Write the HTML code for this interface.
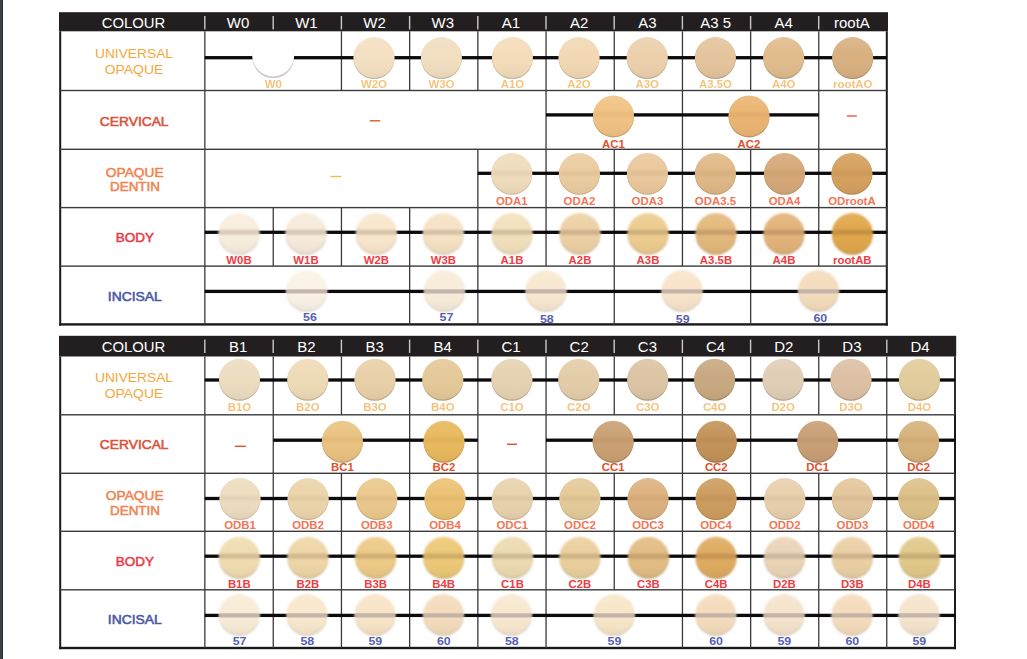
<!DOCTYPE html>
<html><head><meta charset="utf-8"><style>
html,body{margin:0;padding:0;background:#fff;width:1027px;height:659px;overflow:hidden}
svg{display:block;position:absolute;left:0;top:0}
text{font-family:"Liberation Sans",sans-serif;text-anchor:middle}
.hd{fill:#fff;font-size:15px}
.luo{fill:#f5b865;font-size:10px;font-weight:bold;opacity:.85}
.lcv{fill:#e2502c;font-size:10px;font-weight:bold}
.lod{fill:#f27656;font-size:10px;font-weight:bold}
.lbd{fill:#ef3d45;font-size:10px;font-weight:bold}
.lin{fill:#5660b4;font-size:10px;font-weight:bold}
.ruo{fill:#f4a83a;font-size:13px}
.rcv{fill:#d9533c;stroke:#d9533c;stroke-width:.55px;font-size:12.8px}
.rod{fill:#f08450;stroke:#f08450;stroke-width:.5px;font-size:12.2px}
.rbd{fill:#e63e4c;stroke:#e63e4c;stroke-width:.55px;font-size:12.5px}
.rin{fill:#4b58a8;stroke:#4b58a8;stroke-width:.55px;font-size:12.5px}
</style></head><body>
<svg width="1027" height="659" viewBox="0 0 1027 659">
<defs><linearGradient id="shade" x1="0" y1="0" x2="0" y2="1"><stop offset="0" stop-color="#fff" stop-opacity=".12"/><stop offset=".45" stop-color="#fff" stop-opacity="0"/><stop offset="1" stop-color="#000" stop-opacity=".05"/></linearGradient><filter id="bl" x="-20%" y="-20%" width="140%" height="140%"><feGaussianBlur stdDeviation="0.65"/></filter><filter id="bl2" x="-20%" y="-50%" width="140%" height="200%"><feGaussianBlur stdDeviation="1.1"/></filter><filter id="bl4" x="-20%" y="-20%" width="140%" height="140%"><feGaussianBlur stdDeviation="0.85"/></filter><filter id="bl3" x="-20%" y="-20%" width="140%" height="140%"><feGaussianBlur stdDeviation="1.0"/></filter></defs>
<rect x="0" y="0" width="2" height="659" fill="#3d4246"/>
<rect x="2" y="0" width="1" height="659" fill="#2c3033"/>
<rect x="59" y="12.2" width="829.0" height="19.1" fill="#231f20"/>
<text x="133.5" y="27.9" class="hd" textLength="63.6" lengthAdjust="spacingAndGlyphs">COLOUR</text>
<text x="238.1" y="27.9" class="hd">W0</text>
<text x="306.4" y="27.9" class="hd">W1</text>
<text x="374.6" y="27.9" class="hd">W2</text>
<text x="442.8" y="27.9" class="hd">W3</text>
<text x="511.0" y="27.9" class="hd">A1</text>
<text x="579.2" y="27.9" class="hd">A2</text>
<text x="647.4" y="27.9" class="hd">A3</text>
<text x="715.6" y="27.9" class="hd" xml:space="preserve">A3 5</text>
<text x="783.8" y="27.9" class="hd">A4</text>
<text x="851.9" y="27.9" class="hd">rootA</text>
<rect x="204.1" y="16.0" width="1.4" height="13.4" fill="#c9c9c9"/>
<rect x="272.5" y="16.0" width="1.4" height="13.4" fill="#c9c9c9"/>
<rect x="340.7" y="16.0" width="1.4" height="13.4" fill="#c9c9c9"/>
<rect x="408.9" y="16.0" width="1.4" height="13.4" fill="#c9c9c9"/>
<rect x="477.1" y="16.0" width="1.4" height="13.4" fill="#c9c9c9"/>
<rect x="545.3" y="16.0" width="1.4" height="13.4" fill="#c9c9c9"/>
<rect x="613.5" y="16.0" width="1.4" height="13.4" fill="#c9c9c9"/>
<rect x="681.7" y="16.0" width="1.4" height="13.4" fill="#c9c9c9"/>
<rect x="749.9" y="16.0" width="1.4" height="13.4" fill="#c9c9c9"/>
<rect x="818.0" y="16.0" width="1.4" height="13.4" fill="#c9c9c9"/>
<rect x="59.2" y="31.3" width="2" height="294.3" fill="#1b1b1b"/>
<rect x="885.8" y="31.3" width="2" height="294.3" fill="#1b1b1b"/>
<rect x="59.2" y="323.2" width="828.6" height="2.4" fill="#1b1b1b"/>
<rect x="60" y="89.8" width="826.8" height="1.4" fill="#3c3c3c"/>
<rect x="60" y="148.6" width="826.8" height="1.4" fill="#3c3c3c"/>
<rect x="60" y="206.9" width="826.8" height="1.4" fill="#3c3c3c"/>
<rect x="60" y="265.4" width="826.8" height="1.4" fill="#3c3c3c"/>
<rect x="204.2" y="31.3" width="1.3" height="59.2" fill="#3a3a3a"/>
<rect x="340.8" y="31.3" width="1.3" height="59.2" fill="#3a3a3a"/>
<rect x="409.0" y="31.3" width="1.3" height="59.2" fill="#3a3a3a"/>
<rect x="477.2" y="31.3" width="1.3" height="59.2" fill="#3a3a3a"/>
<rect x="545.4" y="31.3" width="1.3" height="59.2" fill="#3a3a3a"/>
<rect x="613.6" y="31.3" width="1.3" height="59.2" fill="#3a3a3a"/>
<rect x="681.8" y="31.3" width="1.3" height="59.2" fill="#3a3a3a"/>
<rect x="750.0" y="31.3" width="1.3" height="59.2" fill="#3a3a3a"/>
<rect x="818.1" y="31.3" width="1.3" height="59.2" fill="#3a3a3a"/>
<rect x="204.8" y="56.05" width="682.0" height="3.3" fill="#0c0a0c"/>
<g filter="url(#bl)">
<circle cx="273.2" cy="57.1" r="20.9" fill="#cdc4c4"/>
<circle cx="273.2" cy="55.7" r="20.7" fill="#fff"/>
</g>
<text x="273.2" y="88.1" class="luo" style="font-size:10px" textLength="17.1" lengthAdjust="spacingAndGlyphs">W0</text>
<g filter="url(#bl)">
<circle cx="374.0" cy="58.5" r="20.5" fill="#c3b39b" opacity="1"/>
<circle cx="374.0" cy="57.5" r="20.4" fill="#f4e0c2" opacity="1"/>
<circle cx="374.0" cy="57.5" r="20.4" fill="url(#shade)"/>
</g>
<text x="374.0" y="88.1" class="luo" style="font-size:10px" textLength="26.0" lengthAdjust="spacingAndGlyphs">W2O</text>
<g filter="url(#bl)">
<circle cx="441.4" cy="58.5" r="20.5" fill="#c2b29a" opacity="1"/>
<circle cx="441.4" cy="57.5" r="20.4" fill="#f2dec0" opacity="1"/>
<circle cx="441.4" cy="57.5" r="20.4" fill="url(#shade)"/>
</g>
<text x="441.4" y="88.1" class="luo" style="font-size:10px" textLength="26.0" lengthAdjust="spacingAndGlyphs">W3O</text>
<g filter="url(#bl)">
<circle cx="512.4" cy="58.5" r="20.5" fill="#c3b095" opacity="1"/>
<circle cx="512.4" cy="57.5" r="20.4" fill="#f4dcba" opacity="1"/>
<circle cx="512.4" cy="57.5" r="20.4" fill="url(#shade)"/>
</g>
<text x="512.4" y="88.1" class="luo" style="font-size:10px" textLength="23.4" lengthAdjust="spacingAndGlyphs">A1O</text>
<g filter="url(#bl)">
<circle cx="579.0" cy="58.5" r="20.5" fill="#c2ad90" opacity="1"/>
<circle cx="579.0" cy="57.5" r="20.4" fill="#f2d8b4" opacity="1"/>
<circle cx="579.0" cy="57.5" r="20.4" fill="url(#shade)"/>
</g>
<text x="579.0" y="88.1" class="luo" style="font-size:10px" textLength="23.4" lengthAdjust="spacingAndGlyphs">A2O</text>
<g filter="url(#bl)">
<circle cx="647.2" cy="58.5" r="20.5" fill="#bda68a" opacity="1"/>
<circle cx="647.2" cy="57.5" r="20.4" fill="#ecd0ac" opacity="1"/>
<circle cx="647.2" cy="57.5" r="20.4" fill="url(#shade)"/>
</g>
<text x="647.2" y="88.1" class="luo" style="font-size:10px" textLength="23.4" lengthAdjust="spacingAndGlyphs">A3O</text>
<g filter="url(#bl)">
<circle cx="715.4" cy="58.5" r="20.5" fill="#b69d7d" opacity="1"/>
<circle cx="715.4" cy="57.5" r="20.4" fill="#e4c49c" opacity="1"/>
<circle cx="715.4" cy="57.5" r="20.4" fill="url(#shade)"/>
</g>
<text x="715.4" y="88.1" class="luo" style="font-size:10px" textLength="32.9" lengthAdjust="spacingAndGlyphs">A3.5O</text>
<g filter="url(#bl)">
<circle cx="783.7" cy="58.5" r="20.5" fill="#b39670" opacity="1"/>
<circle cx="783.7" cy="57.5" r="20.4" fill="#e0bc8c" opacity="1"/>
<circle cx="783.7" cy="57.5" r="20.4" fill="url(#shade)"/>
</g>
<text x="783.7" y="88.1" class="luo" style="font-size:10px" textLength="23.4" lengthAdjust="spacingAndGlyphs">A4O</text>
<g filter="url(#bl)">
<circle cx="852.7" cy="58.5" r="20.5" fill="#ad8d66" opacity="1"/>
<circle cx="852.7" cy="57.5" r="20.4" fill="#d8b080" opacity="1"/>
<circle cx="852.7" cy="57.5" r="20.4" fill="url(#shade)"/>
</g>
<text x="852.7" y="88.1" class="luo" style="font-size:10px" textLength="39.3" lengthAdjust="spacingAndGlyphs">rootAO</text>
<rect x="204.2" y="90.5" width="1.3" height="58.8" fill="#3a3a3a"/>
<rect x="545.4" y="90.5" width="1.3" height="58.8" fill="#3a3a3a"/>
<rect x="681.8" y="90.5" width="1.3" height="58.8" fill="#3a3a3a"/>
<rect x="818.1" y="90.5" width="1.3" height="58.8" fill="#3a3a3a"/>
<rect x="546.0" y="113.25" width="272.7" height="3.3" fill="#0c0a0c"/>
<rect x="369.8" y="120.1" width="10.5" height="1.4" fill="#e0582e"/>
<rect x="846.8" y="115.3" width="10" height="1.4" fill="#e0603a"/>
<g filter="url(#bl)">
<circle cx="613.5" cy="116.9" r="20.5" fill="#c09b68" opacity="1"/>
<circle cx="613.5" cy="115.9" r="20.4" fill="#f0c282" opacity="1"/>
<circle cx="613.5" cy="115.9" r="20.4" fill="url(#shade)"/>
</g>
<rect x="594.0" y="112.4" width="39" height="5" fill="#5a4030" opacity="0.05" filter="url(#bl2)"/>
<text x="613.5" y="147.6" class="lcv" style="font-size:10px" textLength="22.8" lengthAdjust="spacingAndGlyphs">AC1</text>
<g filter="url(#bl)">
<circle cx="749.0" cy="116.9" r="20.5" fill="#bb905b" opacity="1"/>
<circle cx="749.0" cy="115.9" r="20.4" fill="#eab472" opacity="1"/>
<circle cx="749.0" cy="115.9" r="20.4" fill="url(#shade)"/>
</g>
<rect x="729.5" y="112.4" width="39" height="5" fill="#5a4030" opacity="0.05" filter="url(#bl2)"/>
<text x="749.0" y="147.6" class="lcv" style="font-size:10px" textLength="22.8" lengthAdjust="spacingAndGlyphs">AC2</text>
<rect x="204.2" y="149.3" width="1.3" height="58.3" fill="#3a3a3a"/>
<rect x="477.2" y="149.3" width="1.3" height="58.3" fill="#3a3a3a"/>
<rect x="545.4" y="149.3" width="1.3" height="58.3" fill="#3a3a3a"/>
<rect x="613.6" y="149.3" width="1.3" height="58.3" fill="#3a3a3a"/>
<rect x="681.8" y="149.3" width="1.3" height="58.3" fill="#3a3a3a"/>
<rect x="750.0" y="149.3" width="1.3" height="58.3" fill="#3a3a3a"/>
<rect x="818.1" y="149.3" width="1.3" height="58.3" fill="#3a3a3a"/>
<rect x="477.8" y="171.65" width="409.0" height="3.3" fill="#0c0a0c"/>
<rect x="330.5" y="175.8" width="10.6" height="1.4" fill="#f0bc3c"/>
<g filter="url(#bl)">
<circle cx="511.8" cy="174.3" r="20.5" fill="#cab99e" opacity="1"/>
<circle cx="511.8" cy="173.3" r="20.4" fill="#f0dcbc" opacity="1"/>
<circle cx="511.8" cy="173.3" r="20.4" fill="url(#shade)"/>
</g>
<rect x="492.3" y="170.8" width="39" height="5" fill="#5a4030" opacity="0.06" filter="url(#bl2)"/>
<text x="511.8" y="205.3" class="lod" style="font-size:10px" textLength="31.7" lengthAdjust="spacingAndGlyphs">ODA1</text>
<g filter="url(#bl)">
<circle cx="579.4" cy="174.3" r="20.5" fill="#c6ab86" opacity="1"/>
<circle cx="579.4" cy="173.3" r="20.4" fill="#eccca0" opacity="1"/>
<circle cx="579.4" cy="173.3" r="20.4" fill="url(#shade)"/>
</g>
<rect x="559.9" y="170.8" width="39" height="5" fill="#5a4030" opacity="0.06" filter="url(#bl2)"/>
<text x="579.4" y="205.3" class="lod" style="font-size:10px" textLength="31.7" lengthAdjust="spacingAndGlyphs">ODA2</text>
<g filter="url(#bl)">
<circle cx="647.4" cy="174.3" r="20.5" fill="#c5a883" opacity="1"/>
<circle cx="647.4" cy="173.3" r="20.4" fill="#eac89c" opacity="1"/>
<circle cx="647.4" cy="173.3" r="20.4" fill="url(#shade)"/>
</g>
<rect x="627.9" y="170.8" width="39" height="5" fill="#5a4030" opacity="0.06" filter="url(#bl2)"/>
<text x="647.4" y="205.3" class="lod" style="font-size:10px" textLength="31.7" lengthAdjust="spacingAndGlyphs">ODA3</text>
<g filter="url(#bl)">
<circle cx="715.4" cy="174.3" r="20.5" fill="#bc9b71" opacity="1"/>
<circle cx="715.4" cy="173.3" r="20.4" fill="#e0b886" opacity="1"/>
<circle cx="715.4" cy="173.3" r="20.4" fill="url(#shade)"/>
</g>
<rect x="695.9" y="170.8" width="39" height="5" fill="#5a4030" opacity="0.06" filter="url(#bl2)"/>
<text x="715.4" y="205.3" class="lod" style="font-size:10px" textLength="41.2" lengthAdjust="spacingAndGlyphs">ODA3.5</text>
<g filter="url(#bl)">
<circle cx="784.5" cy="174.3" r="20.5" fill="#b48d65" opacity="1"/>
<circle cx="784.5" cy="173.3" r="20.4" fill="#d6a878" opacity="1"/>
<circle cx="784.5" cy="173.3" r="20.4" fill="url(#shade)"/>
</g>
<rect x="765.0" y="170.8" width="39" height="5" fill="#5a4030" opacity="0.06" filter="url(#bl2)"/>
<text x="784.5" y="205.3" class="lod" style="font-size:10px" textLength="31.7" lengthAdjust="spacingAndGlyphs">ODA4</text>
<g filter="url(#bl)">
<circle cx="851.9" cy="174.3" r="20.5" fill="#b2864f" opacity="1"/>
<circle cx="851.9" cy="173.3" r="20.4" fill="#d4a05e" opacity="1"/>
<circle cx="851.9" cy="173.3" r="20.4" fill="url(#shade)"/>
</g>
<rect x="832.4" y="170.8" width="39" height="5" fill="#5a4030" opacity="0.06" filter="url(#bl2)"/>
<text x="851.9" y="205.3" class="lod" style="font-size:10px" textLength="47.5" lengthAdjust="spacingAndGlyphs">ODrootA</text>
<rect x="204.2" y="207.6" width="1.3" height="58.5" fill="#3a3a3a"/>
<rect x="272.6" y="207.6" width="1.3" height="58.5" fill="#3a3a3a"/>
<rect x="340.8" y="207.6" width="1.3" height="58.5" fill="#3a3a3a"/>
<rect x="409.0" y="207.6" width="1.3" height="58.5" fill="#3a3a3a"/>
<rect x="477.2" y="207.6" width="1.3" height="58.5" fill="#3a3a3a"/>
<rect x="545.4" y="207.6" width="1.3" height="58.5" fill="#3a3a3a"/>
<rect x="613.6" y="207.6" width="1.3" height="58.5" fill="#3a3a3a"/>
<rect x="681.8" y="207.6" width="1.3" height="58.5" fill="#3a3a3a"/>
<rect x="750.0" y="207.6" width="1.3" height="58.5" fill="#3a3a3a"/>
<rect x="818.1" y="207.6" width="1.3" height="58.5" fill="#3a3a3a"/>
<rect x="886.1" y="207.6" width="1.3" height="58.5" fill="#3a3a3a"/>
<rect x="204.8" y="230.65" width="682.0" height="3.3" fill="#0c0a0c"/>
<g filter="url(#bl4)">
<circle cx="239.0" cy="234.3" r="20.5" fill="#c6beb2" opacity="1"/>
<circle cx="239.0" cy="233.3" r="20.4" fill="#f8eedf" opacity="1"/>
<circle cx="239.0" cy="233.3" r="20.4" fill="url(#shade)"/>
</g>
<rect x="219.5" y="229.8" width="39" height="5" fill="#5a4030" opacity="0.2" filter="url(#bl2)"/>
<text x="239.0" y="264.4" class="lbd" style="font-size:10px" textLength="25.3" lengthAdjust="spacingAndGlyphs">W0B</text>
<g filter="url(#bl4)">
<circle cx="306.0" cy="234.3" r="20.5" fill="#c5bbaf" opacity="1"/>
<circle cx="306.0" cy="233.3" r="20.4" fill="#f6eadb" opacity="1"/>
<circle cx="306.0" cy="233.3" r="20.4" fill="url(#shade)"/>
</g>
<rect x="286.5" y="229.8" width="39" height="5" fill="#5a4030" opacity="0.2" filter="url(#bl2)"/>
<text x="306.0" y="264.4" class="lbd" style="font-size:10px" textLength="25.3" lengthAdjust="spacingAndGlyphs">W1B</text>
<g filter="url(#bl4)">
<circle cx="376.3" cy="234.3" r="20.5" fill="#c6b8a3" opacity="1"/>
<circle cx="376.3" cy="233.3" r="20.4" fill="#f8e6cc" opacity="1"/>
<circle cx="376.3" cy="233.3" r="20.4" fill="url(#shade)"/>
</g>
<rect x="356.8" y="229.8" width="39" height="5" fill="#5a4030" opacity="0.2" filter="url(#bl2)"/>
<text x="376.3" y="264.4" class="lbd" style="font-size:10px" textLength="25.3" lengthAdjust="spacingAndGlyphs">W2B</text>
<g filter="url(#bl4)">
<circle cx="443.3" cy="234.3" r="20.5" fill="#c5b59d" opacity="1"/>
<circle cx="443.3" cy="233.3" r="20.4" fill="#f6e2c4" opacity="1"/>
<circle cx="443.3" cy="233.3" r="20.4" fill="url(#shade)"/>
</g>
<rect x="423.8" y="229.8" width="39" height="5" fill="#5a4030" opacity="0.2" filter="url(#bl2)"/>
<text x="443.3" y="264.4" class="lbd" style="font-size:10px" textLength="25.3" lengthAdjust="spacingAndGlyphs">W3B</text>
<g filter="url(#bl4)">
<circle cx="512.0" cy="234.3" r="20.5" fill="#c2b396" opacity="1"/>
<circle cx="512.0" cy="233.3" r="20.4" fill="#f2e0bc" opacity="1"/>
<circle cx="512.0" cy="233.3" r="20.4" fill="url(#shade)"/>
</g>
<rect x="492.5" y="229.8" width="39" height="5" fill="#5a4030" opacity="0.2" filter="url(#bl2)"/>
<text x="512.0" y="264.4" class="lbd" style="font-size:10px" textLength="22.8" lengthAdjust="spacingAndGlyphs">A1B</text>
<g filter="url(#bl4)">
<circle cx="580.0" cy="234.3" r="20.5" fill="#bda683" opacity="1"/>
<circle cx="580.0" cy="233.3" r="20.4" fill="#ecd0a4" opacity="1"/>
<circle cx="580.0" cy="233.3" r="20.4" fill="url(#shade)"/>
</g>
<rect x="560.5" y="229.8" width="39" height="5" fill="#5a4030" opacity="0.2" filter="url(#bl2)"/>
<text x="580.0" y="264.4" class="lbd" style="font-size:10px" textLength="22.8" lengthAdjust="spacingAndGlyphs">A2B</text>
<g filter="url(#bl4)">
<circle cx="648.0" cy="234.3" r="20.5" fill="#bda372" opacity="1"/>
<circle cx="648.0" cy="233.3" r="20.4" fill="#eccc8e" opacity="1"/>
<circle cx="648.0" cy="233.3" r="20.4" fill="url(#shade)"/>
</g>
<rect x="628.5" y="229.8" width="39" height="5" fill="#5a4030" opacity="0.2" filter="url(#bl2)"/>
<text x="648.0" y="264.4" class="lbd" style="font-size:10px" textLength="22.8" lengthAdjust="spacingAndGlyphs">A3B</text>
<g filter="url(#bl4)">
<circle cx="716.0" cy="234.3" r="20.5" fill="#b59362" opacity="1"/>
<circle cx="716.0" cy="233.3" r="20.4" fill="#e2b87a" opacity="1"/>
<circle cx="716.0" cy="233.3" r="20.4" fill="url(#shade)"/>
</g>
<rect x="696.5" y="229.8" width="39" height="5" fill="#5a4030" opacity="0.2" filter="url(#bl2)"/>
<text x="716.0" y="264.4" class="lbd" style="font-size:10px" textLength="32.3" lengthAdjust="spacingAndGlyphs">A3.5B</text>
<g filter="url(#bl4)">
<circle cx="784.0" cy="234.3" r="20.5" fill="#b58e60" opacity="1"/>
<circle cx="784.0" cy="233.3" r="20.4" fill="#e2b278" opacity="1"/>
<circle cx="784.0" cy="233.3" r="20.4" fill="url(#shade)"/>
</g>
<rect x="764.5" y="229.8" width="39" height="5" fill="#5a4030" opacity="0.2" filter="url(#bl2)"/>
<text x="784.0" y="264.4" class="lbd" style="font-size:10px" textLength="22.8" lengthAdjust="spacingAndGlyphs">A4B</text>
<g filter="url(#bl4)">
<circle cx="852.3" cy="234.3" r="20.5" fill="#b3853b" opacity="1"/>
<circle cx="852.3" cy="233.3" r="20.4" fill="#e0a64a" opacity="1"/>
<circle cx="852.3" cy="233.3" r="20.4" fill="url(#shade)"/>
</g>
<rect x="832.8" y="229.8" width="39" height="5" fill="#5a4030" opacity="0.2" filter="url(#bl2)"/>
<text x="852.3" y="264.4" class="lbd" style="font-size:10px" textLength="38.6" lengthAdjust="spacingAndGlyphs">rootAB</text>
<rect x="204.2" y="266.1" width="1.3" height="58.3" fill="#3a3a3a"/>
<rect x="409.0" y="266.1" width="1.3" height="58.3" fill="#3a3a3a"/>
<rect x="477.2" y="266.1" width="1.3" height="58.3" fill="#3a3a3a"/>
<rect x="613.6" y="266.1" width="1.3" height="58.3" fill="#3a3a3a"/>
<rect x="750.0" y="266.1" width="1.3" height="58.3" fill="#3a3a3a"/>
<rect x="204.8" y="289.75" width="682.0" height="3.3" fill="#0c0a0c"/>
<g filter="url(#bl4)">
<circle cx="306.7" cy="291.4" r="20.4" fill="#c8c2b8" opacity="1"/>
<circle cx="306.7" cy="290.4" r="20.3" fill="#faf2e6" opacity="1"/>
<circle cx="306.7" cy="290.4" r="20.3" fill="url(#shade)"/>
</g>
<rect x="287.2" y="289.3" width="39" height="4.2" fill="#bcaca6" opacity="0.85" filter="url(#bl)"/>
<text x="310.0" y="320.6" class="lin" style="font-size:11px" textLength="13.8" lengthAdjust="spacingAndGlyphs">56</text>
<g filter="url(#bl4)">
<circle cx="444.5" cy="291.4" r="20.4" fill="#c6bdae" opacity="1"/>
<circle cx="444.5" cy="290.4" r="20.3" fill="#f8ecda" opacity="1"/>
<circle cx="444.5" cy="290.4" r="20.3" fill="url(#shade)"/>
</g>
<rect x="425.0" y="289.3" width="39" height="4.2" fill="#bcaca6" opacity="0.85" filter="url(#bl)"/>
<text x="446.5" y="321.2" class="lin" style="font-size:11px" textLength="13.8" lengthAdjust="spacingAndGlyphs">57</text>
<g filter="url(#bl4)">
<circle cx="546.0" cy="291.4" r="20.4" fill="#c6baa6" opacity="1"/>
<circle cx="546.0" cy="290.4" r="20.3" fill="#f8e8d0" opacity="1"/>
<circle cx="546.0" cy="290.4" r="20.3" fill="url(#shade)"/>
</g>
<rect x="526.5" y="289.3" width="39" height="4.2" fill="#bcaca6" opacity="0.85" filter="url(#bl)"/>
<text x="546.8" y="322.6" class="lin" style="font-size:11px" textLength="13.8" lengthAdjust="spacingAndGlyphs">58</text>
<g filter="url(#bl4)">
<circle cx="682.0" cy="291.4" r="20.4" fill="#c6b6a2" opacity="1"/>
<circle cx="682.0" cy="290.4" r="20.3" fill="#f8e4ca" opacity="1"/>
<circle cx="682.0" cy="290.4" r="20.3" fill="url(#shade)"/>
</g>
<rect x="662.5" y="289.3" width="39" height="4.2" fill="#bcaca6" opacity="0.85" filter="url(#bl)"/>
<text x="682.7" y="322.6" class="lin" style="font-size:11px" textLength="13.8" lengthAdjust="spacingAndGlyphs">59</text>
<g filter="url(#bl4)">
<circle cx="818.5" cy="291.4" r="20.4" fill="#c3b096" opacity="1"/>
<circle cx="818.5" cy="290.4" r="20.3" fill="#f4dcbc" opacity="1"/>
<circle cx="818.5" cy="290.4" r="20.3" fill="url(#shade)"/>
</g>
<rect x="799.0" y="289.3" width="39" height="4.2" fill="#bcaca6" opacity="0.85" filter="url(#bl)"/>
<text x="820.3" y="321.6" class="lin" style="font-size:11px" textLength="13.8" lengthAdjust="spacingAndGlyphs">60</text>
<rect x="59" y="335.8" width="897.2" height="20.7" fill="#231f20"/>
<text x="133.5" y="351.5" class="hd" textLength="63.6" lengthAdjust="spacingAndGlyphs">COLOUR</text>
<text x="238.1" y="351.5" class="hd">B1</text>
<text x="306.4" y="351.5" class="hd">B2</text>
<text x="374.6" y="351.5" class="hd">B3</text>
<text x="442.8" y="351.5" class="hd">B4</text>
<text x="511.0" y="351.5" class="hd">C1</text>
<text x="579.2" y="351.5" class="hd">C2</text>
<text x="647.4" y="351.5" class="hd">C3</text>
<text x="715.6" y="351.5" class="hd">C4</text>
<text x="783.8" y="351.5" class="hd">D2</text>
<text x="851.9" y="351.5" class="hd">D3</text>
<text x="920.0" y="351.5" class="hd">D4</text>
<rect x="204.1" y="339.6" width="1.4" height="13.4" fill="#c9c9c9"/>
<rect x="272.5" y="339.6" width="1.4" height="13.4" fill="#c9c9c9"/>
<rect x="340.7" y="339.6" width="1.4" height="13.4" fill="#c9c9c9"/>
<rect x="408.9" y="339.6" width="1.4" height="13.4" fill="#c9c9c9"/>
<rect x="477.1" y="339.6" width="1.4" height="13.4" fill="#c9c9c9"/>
<rect x="545.3" y="339.6" width="1.4" height="13.4" fill="#c9c9c9"/>
<rect x="613.5" y="339.6" width="1.4" height="13.4" fill="#c9c9c9"/>
<rect x="681.7" y="339.6" width="1.4" height="13.4" fill="#c9c9c9"/>
<rect x="749.9" y="339.6" width="1.4" height="13.4" fill="#c9c9c9"/>
<rect x="818.0" y="339.6" width="1.4" height="13.4" fill="#c9c9c9"/>
<rect x="886.1" y="339.6" width="1.4" height="13.4" fill="#c9c9c9"/>
<rect x="59.2" y="356.5" width="2" height="292.7" fill="#1b1b1b"/>
<rect x="954.0" y="356.5" width="2" height="292.7" fill="#1b1b1b"/>
<rect x="59.2" y="646.8" width="896.8" height="2.4" fill="#1b1b1b"/>
<rect x="60" y="414.1" width="895.0" height="1.4" fill="#3c3c3c"/>
<rect x="60" y="472.6" width="895.0" height="1.4" fill="#3c3c3c"/>
<rect x="60" y="530.6" width="895.0" height="1.4" fill="#3c3c3c"/>
<rect x="60" y="589.1" width="895.0" height="1.4" fill="#3c3c3c"/>
<rect x="204.2" y="356.5" width="1.3" height="58.3" fill="#3a3a3a"/>
<rect x="272.6" y="356.5" width="1.3" height="58.3" fill="#3a3a3a"/>
<rect x="340.8" y="356.5" width="1.3" height="58.3" fill="#3a3a3a"/>
<rect x="409.0" y="356.5" width="1.3" height="58.3" fill="#3a3a3a"/>
<rect x="477.2" y="356.5" width="1.3" height="58.3" fill="#3a3a3a"/>
<rect x="545.4" y="356.5" width="1.3" height="58.3" fill="#3a3a3a"/>
<rect x="613.6" y="356.5" width="1.3" height="58.3" fill="#3a3a3a"/>
<rect x="681.8" y="356.5" width="1.3" height="58.3" fill="#3a3a3a"/>
<rect x="750.0" y="356.5" width="1.3" height="58.3" fill="#3a3a3a"/>
<rect x="818.1" y="356.5" width="1.3" height="58.3" fill="#3a3a3a"/>
<rect x="886.1" y="356.5" width="1.3" height="58.3" fill="#3a3a3a"/>
<rect x="954.4" y="356.5" width="1.3" height="58.3" fill="#3a3a3a"/>
<rect x="204.8" y="378.35" width="750.2" height="3.3" fill="#0c0a0c"/>
<g filter="url(#bl)">
<circle cx="239.5" cy="380.2" r="20.5" fill="#bdb09a" opacity="1"/>
<circle cx="239.5" cy="379.2" r="20.4" fill="#ecdcc0" opacity="1"/>
<circle cx="239.5" cy="379.2" r="20.4" fill="url(#shade)"/>
</g>
<text x="239.5" y="411.0" class="luo" style="font-size:10px" textLength="23.4" lengthAdjust="spacingAndGlyphs">B1O</text>
<g filter="url(#bl)">
<circle cx="307.8" cy="380.2" r="20.5" fill="#beae92" opacity="1"/>
<circle cx="307.8" cy="379.2" r="20.4" fill="#eedab6" opacity="1"/>
<circle cx="307.8" cy="379.2" r="20.4" fill="url(#shade)"/>
</g>
<text x="307.8" y="411.0" class="luo" style="font-size:10px" textLength="23.4" lengthAdjust="spacingAndGlyphs">B2O</text>
<g filter="url(#bl)">
<circle cx="375.0" cy="380.2" r="20.5" fill="#baa686" opacity="1"/>
<circle cx="375.0" cy="379.2" r="20.4" fill="#e8d0a8" opacity="1"/>
<circle cx="375.0" cy="379.2" r="20.4" fill="url(#shade)"/>
</g>
<text x="375.0" y="411.0" class="luo" style="font-size:10px" textLength="23.4" lengthAdjust="spacingAndGlyphs">B3O</text>
<g filter="url(#bl)">
<circle cx="442.8" cy="380.2" r="20.5" fill="#b6a07a" opacity="1"/>
<circle cx="442.8" cy="379.2" r="20.4" fill="#e4c898" opacity="1"/>
<circle cx="442.8" cy="379.2" r="20.4" fill="url(#shade)"/>
</g>
<text x="442.8" y="411.0" class="luo" style="font-size:10px" textLength="23.4" lengthAdjust="spacingAndGlyphs">B4O</text>
<g filter="url(#bl)">
<circle cx="511.9" cy="380.2" r="20.5" fill="#b8a88e" opacity="1"/>
<circle cx="511.9" cy="379.2" r="20.4" fill="#e6d2b2" opacity="1"/>
<circle cx="511.9" cy="379.2" r="20.4" fill="url(#shade)"/>
</g>
<text x="511.9" y="411.0" class="luo" style="font-size:10px" textLength="23.4" lengthAdjust="spacingAndGlyphs">C1O</text>
<g filter="url(#bl)">
<circle cx="578.8" cy="380.2" r="20.5" fill="#b6a386" opacity="1"/>
<circle cx="578.8" cy="379.2" r="20.4" fill="#e4cca8" opacity="1"/>
<circle cx="578.8" cy="379.2" r="20.4" fill="url(#shade)"/>
</g>
<text x="578.8" y="411.0" class="luo" style="font-size:10px" textLength="23.4" lengthAdjust="spacingAndGlyphs">C2O</text>
<g filter="url(#bl)">
<circle cx="647.7" cy="380.2" r="20.5" fill="#b09d83" opacity="1"/>
<circle cx="647.7" cy="379.2" r="20.4" fill="#dcc4a4" opacity="1"/>
<circle cx="647.7" cy="379.2" r="20.4" fill="url(#shade)"/>
</g>
<text x="647.7" y="411.0" class="luo" style="font-size:10px" textLength="23.4" lengthAdjust="spacingAndGlyphs">C3O</text>
<g filter="url(#bl)">
<circle cx="714.6" cy="380.2" r="20.5" fill="#a08666" opacity="1"/>
<circle cx="714.6" cy="379.2" r="20.4" fill="#c8a880" opacity="1"/>
<circle cx="714.6" cy="379.2" r="20.4" fill="url(#shade)"/>
</g>
<text x="714.6" y="411.0" class="luo" style="font-size:10px" textLength="23.4" lengthAdjust="spacingAndGlyphs">C4O</text>
<g filter="url(#bl)">
<circle cx="783.1" cy="380.2" r="20.5" fill="#b3a592" opacity="1"/>
<circle cx="783.1" cy="379.2" r="20.4" fill="#e0ceb6" opacity="1"/>
<circle cx="783.1" cy="379.2" r="20.4" fill="url(#shade)"/>
</g>
<text x="783.1" y="411.0" class="luo" style="font-size:10px" textLength="23.4" lengthAdjust="spacingAndGlyphs">D2O</text>
<g filter="url(#bl)">
<circle cx="851.0" cy="380.2" r="20.5" fill="#b09a83" opacity="1"/>
<circle cx="851.0" cy="379.2" r="20.4" fill="#dcc0a4" opacity="1"/>
<circle cx="851.0" cy="379.2" r="20.4" fill="url(#shade)"/>
</g>
<text x="851.0" y="411.0" class="luo" style="font-size:10px" textLength="23.4" lengthAdjust="spacingAndGlyphs">D3O</text>
<g filter="url(#bl)">
<circle cx="919.4" cy="380.2" r="20.5" fill="#b5a37d" opacity="1"/>
<circle cx="919.4" cy="379.2" r="20.4" fill="#e2cc9c" opacity="1"/>
<circle cx="919.4" cy="379.2" r="20.4" fill="url(#shade)"/>
</g>
<text x="919.4" y="411.0" class="luo" style="font-size:10px" textLength="23.4" lengthAdjust="spacingAndGlyphs">D4O</text>
<rect x="204.2" y="414.8" width="1.3" height="58.5" fill="#3a3a3a"/>
<rect x="272.6" y="414.8" width="1.3" height="58.5" fill="#3a3a3a"/>
<rect x="409.0" y="414.8" width="1.3" height="58.5" fill="#3a3a3a"/>
<rect x="477.2" y="414.8" width="1.3" height="58.5" fill="#3a3a3a"/>
<rect x="545.4" y="414.8" width="1.3" height="58.5" fill="#3a3a3a"/>
<rect x="681.8" y="414.8" width="1.3" height="58.5" fill="#3a3a3a"/>
<rect x="750.0" y="414.8" width="1.3" height="58.5" fill="#3a3a3a"/>
<rect x="886.1" y="414.8" width="1.3" height="58.5" fill="#3a3a3a"/>
<rect x="273.2" y="438.55" width="204.6" height="3.3" fill="#0c0a0c"/>
<rect x="546.0" y="438.55" width="409.0" height="3.3" fill="#0c0a0c"/>
<rect x="234.8" y="445.6" width="11" height="1.4" fill="#e0502e"/>
<rect x="507.0" y="443.6" width="10" height="1.4" fill="#e0502e"/>
<g filter="url(#bl)">
<circle cx="342.4" cy="442.2" r="20.5" fill="#bb9b66" opacity="1"/>
<circle cx="342.4" cy="441.2" r="20.4" fill="#eac280" opacity="1"/>
<circle cx="342.4" cy="441.2" r="20.4" fill="url(#shade)"/>
</g>
<rect x="322.9" y="437.7" width="39" height="5" fill="#5a4030" opacity="0.05" filter="url(#bl2)"/>
<text x="342.4" y="470.9" class="lcv" style="font-size:10px" textLength="22.8" lengthAdjust="spacingAndGlyphs">BC1</text>
<g filter="url(#bl)">
<circle cx="444.0" cy="442.2" r="20.5" fill="#ba934a" opacity="1"/>
<circle cx="444.0" cy="441.2" r="20.4" fill="#e8b85c" opacity="1"/>
<circle cx="444.0" cy="441.2" r="20.4" fill="url(#shade)"/>
</g>
<rect x="424.5" y="437.7" width="39" height="5" fill="#5a4030" opacity="0.05" filter="url(#bl2)"/>
<text x="444.0" y="470.9" class="lcv" style="font-size:10px" textLength="22.8" lengthAdjust="spacingAndGlyphs">BC2</text>
<g filter="url(#bl)">
<circle cx="613.1" cy="442.2" r="20.5" fill="#a1805b" opacity="1"/>
<circle cx="613.1" cy="441.2" r="20.4" fill="#c9a072" opacity="1"/>
<circle cx="613.1" cy="441.2" r="20.4" fill="url(#shade)"/>
</g>
<rect x="593.6" y="437.7" width="39" height="5" fill="#5a4030" opacity="0.05" filter="url(#bl2)"/>
<text x="613.1" y="470.9" class="lcv" style="font-size:10px" textLength="22.8" lengthAdjust="spacingAndGlyphs">CC1</text>
<g filter="url(#bl)">
<circle cx="716.3" cy="442.2" r="20.5" fill="#9b7546" opacity="1"/>
<circle cx="716.3" cy="441.2" r="20.4" fill="#c29258" opacity="1"/>
<circle cx="716.3" cy="441.2" r="20.4" fill="url(#shade)"/>
</g>
<rect x="696.8" y="437.7" width="39" height="5" fill="#5a4030" opacity="0.05" filter="url(#bl2)"/>
<text x="716.3" y="470.9" class="lcv" style="font-size:10px" textLength="22.8" lengthAdjust="spacingAndGlyphs">CC2</text>
<g filter="url(#bl)">
<circle cx="817.7" cy="442.2" r="20.5" fill="#a07e5d" opacity="1"/>
<circle cx="817.7" cy="441.2" r="20.4" fill="#c89e74" opacity="1"/>
<circle cx="817.7" cy="441.2" r="20.4" fill="url(#shade)"/>
</g>
<rect x="798.2" y="437.7" width="39" height="5" fill="#5a4030" opacity="0.05" filter="url(#bl2)"/>
<text x="817.7" y="470.9" class="lcv" style="font-size:10px" textLength="22.8" lengthAdjust="spacingAndGlyphs">DC1</text>
<g filter="url(#bl)">
<circle cx="918.7" cy="442.2" r="20.5" fill="#ab8e62" opacity="1"/>
<circle cx="918.7" cy="441.2" r="20.4" fill="#d6b27a" opacity="1"/>
<circle cx="918.7" cy="441.2" r="20.4" fill="url(#shade)"/>
</g>
<rect x="899.2" y="437.7" width="39" height="5" fill="#5a4030" opacity="0.05" filter="url(#bl2)"/>
<text x="918.7" y="470.9" class="lcv" style="font-size:10px" textLength="22.8" lengthAdjust="spacingAndGlyphs">DC2</text>
<rect x="204.2" y="473.3" width="1.3" height="58.0" fill="#3a3a3a"/>
<rect x="272.6" y="473.3" width="1.3" height="58.0" fill="#3a3a3a"/>
<rect x="340.8" y="473.3" width="1.3" height="58.0" fill="#3a3a3a"/>
<rect x="409.0" y="473.3" width="1.3" height="58.0" fill="#3a3a3a"/>
<rect x="477.2" y="473.3" width="1.3" height="58.0" fill="#3a3a3a"/>
<rect x="545.4" y="473.3" width="1.3" height="58.0" fill="#3a3a3a"/>
<rect x="613.6" y="473.3" width="1.3" height="58.0" fill="#3a3a3a"/>
<rect x="681.8" y="473.3" width="1.3" height="58.0" fill="#3a3a3a"/>
<rect x="750.0" y="473.3" width="1.3" height="58.0" fill="#3a3a3a"/>
<rect x="818.1" y="473.3" width="1.3" height="58.0" fill="#3a3a3a"/>
<rect x="886.1" y="473.3" width="1.3" height="58.0" fill="#3a3a3a"/>
<rect x="954.4" y="473.3" width="1.3" height="58.0" fill="#3a3a3a"/>
<rect x="204.8" y="496.85" width="750.2" height="3.3" fill="#0c0a0c"/>
<g filter="url(#bl)">
<circle cx="240.0" cy="499.5" r="20.5" fill="#c8b9a0" opacity="1"/>
<circle cx="240.0" cy="498.5" r="20.4" fill="#eedcbe" opacity="1"/>
<circle cx="240.0" cy="498.5" r="20.4" fill="url(#shade)"/>
</g>
<rect x="220.5" y="496.0" width="39" height="5" fill="#5a4030" opacity="0.06" filter="url(#bl2)"/>
<text x="240.0" y="529.4" class="lod" style="font-size:10px" textLength="31.7" lengthAdjust="spacingAndGlyphs">ODB1</text>
<g filter="url(#bl)">
<circle cx="308.1" cy="499.5" r="20.5" fill="#c6b28f" opacity="1"/>
<circle cx="308.1" cy="498.5" r="20.4" fill="#ecd4aa" opacity="1"/>
<circle cx="308.1" cy="498.5" r="20.4" fill="url(#shade)"/>
</g>
<rect x="288.6" y="496.0" width="39" height="5" fill="#5a4030" opacity="0.06" filter="url(#bl2)"/>
<text x="308.1" y="529.4" class="lod" style="font-size:10px" textLength="31.7" lengthAdjust="spacingAndGlyphs">ODB2</text>
<g filter="url(#bl)">
<circle cx="376.8" cy="499.5" r="20.5" fill="#c5a876" opacity="1"/>
<circle cx="376.8" cy="498.5" r="20.4" fill="#eac88c" opacity="1"/>
<circle cx="376.8" cy="498.5" r="20.4" fill="url(#shade)"/>
</g>
<rect x="357.3" y="496.0" width="39" height="5" fill="#5a4030" opacity="0.06" filter="url(#bl2)"/>
<text x="376.8" y="529.4" class="lod" style="font-size:10px" textLength="31.7" lengthAdjust="spacingAndGlyphs">ODB3</text>
<g filter="url(#bl)">
<circle cx="445.0" cy="499.5" r="20.5" fill="#c6a360" opacity="1"/>
<circle cx="445.0" cy="498.5" r="20.4" fill="#ecc272" opacity="1"/>
<circle cx="445.0" cy="498.5" r="20.4" fill="url(#shade)"/>
</g>
<rect x="425.5" y="496.0" width="39" height="5" fill="#5a4030" opacity="0.06" filter="url(#bl2)"/>
<text x="445.0" y="529.4" class="lod" style="font-size:10px" textLength="31.7" lengthAdjust="spacingAndGlyphs">ODB4</text>
<g filter="url(#bl)">
<circle cx="512.3" cy="499.5" r="20.5" fill="#c3b090" opacity="1"/>
<circle cx="512.3" cy="498.5" r="20.4" fill="#e8d2ac" opacity="1"/>
<circle cx="512.3" cy="498.5" r="20.4" fill="url(#shade)"/>
</g>
<rect x="492.8" y="496.0" width="39" height="5" fill="#5a4030" opacity="0.06" filter="url(#bl2)"/>
<text x="512.3" y="529.4" class="lod" style="font-size:10px" textLength="31.7" lengthAdjust="spacingAndGlyphs">ODC1</text>
<g filter="url(#bl)">
<circle cx="579.9" cy="499.5" r="20.5" fill="#c0aa80" opacity="1"/>
<circle cx="579.9" cy="498.5" r="20.4" fill="#e4ca98" opacity="1"/>
<circle cx="579.9" cy="498.5" r="20.4" fill="url(#shade)"/>
</g>
<rect x="560.4" y="496.0" width="39" height="5" fill="#5a4030" opacity="0.06" filter="url(#bl2)"/>
<text x="579.9" y="529.4" class="lod" style="font-size:10px" textLength="31.7" lengthAdjust="spacingAndGlyphs">ODC2</text>
<g filter="url(#bl)">
<circle cx="648.0" cy="499.5" r="20.5" fill="#b9946a" opacity="1"/>
<circle cx="648.0" cy="498.5" r="20.4" fill="#dcb07e" opacity="1"/>
<circle cx="648.0" cy="498.5" r="20.4" fill="url(#shade)"/>
</g>
<rect x="628.5" y="496.0" width="39" height="5" fill="#5a4030" opacity="0.06" filter="url(#bl2)"/>
<text x="648.0" y="529.4" class="lod" style="font-size:10px" textLength="31.7" lengthAdjust="spacingAndGlyphs">ODC3</text>
<g filter="url(#bl)">
<circle cx="716.1" cy="499.5" r="20.5" fill="#ab834f" opacity="1"/>
<circle cx="716.1" cy="498.5" r="20.4" fill="#cc9c5e" opacity="1"/>
<circle cx="716.1" cy="498.5" r="20.4" fill="url(#shade)"/>
</g>
<rect x="696.6" y="496.0" width="39" height="5" fill="#5a4030" opacity="0.06" filter="url(#bl2)"/>
<text x="716.1" y="529.4" class="lod" style="font-size:10px" textLength="31.7" lengthAdjust="spacingAndGlyphs">ODC4</text>
<g filter="url(#bl)">
<circle cx="784.8" cy="499.5" r="20.5" fill="#c3ae90" opacity="1"/>
<circle cx="784.8" cy="498.5" r="20.4" fill="#e8cfac" opacity="1"/>
<circle cx="784.8" cy="498.5" r="20.4" fill="url(#shade)"/>
</g>
<rect x="765.3" y="496.0" width="39" height="5" fill="#5a4030" opacity="0.06" filter="url(#bl2)"/>
<text x="784.8" y="529.4" class="lod" style="font-size:10px" textLength="31.7" lengthAdjust="spacingAndGlyphs">ODD2</text>
<g filter="url(#bl)">
<circle cx="852.4" cy="499.5" r="20.5" fill="#c0a683" opacity="1"/>
<circle cx="852.4" cy="498.5" r="20.4" fill="#e4c69c" opacity="1"/>
<circle cx="852.4" cy="498.5" r="20.4" fill="url(#shade)"/>
</g>
<rect x="832.9" y="496.0" width="39" height="5" fill="#5a4030" opacity="0.06" filter="url(#bl2)"/>
<text x="852.4" y="529.4" class="lod" style="font-size:10px" textLength="31.7" lengthAdjust="spacingAndGlyphs">ODD3</text>
<g filter="url(#bl)">
<circle cx="918.8" cy="499.5" r="20.5" fill="#b9a172" opacity="1"/>
<circle cx="918.8" cy="498.5" r="20.4" fill="#dcc088" opacity="1"/>
<circle cx="918.8" cy="498.5" r="20.4" fill="url(#shade)"/>
</g>
<rect x="899.3" y="496.0" width="39" height="5" fill="#5a4030" opacity="0.06" filter="url(#bl2)"/>
<text x="918.8" y="529.4" class="lod" style="font-size:10px" textLength="31.7" lengthAdjust="spacingAndGlyphs">ODD4</text>
<rect x="204.2" y="531.3" width="1.3" height="58.5" fill="#3a3a3a"/>
<rect x="272.6" y="531.3" width="1.3" height="58.5" fill="#3a3a3a"/>
<rect x="340.8" y="531.3" width="1.3" height="58.5" fill="#3a3a3a"/>
<rect x="409.0" y="531.3" width="1.3" height="58.5" fill="#3a3a3a"/>
<rect x="477.2" y="531.3" width="1.3" height="58.5" fill="#3a3a3a"/>
<rect x="545.4" y="531.3" width="1.3" height="58.5" fill="#3a3a3a"/>
<rect x="613.6" y="531.3" width="1.3" height="58.5" fill="#3a3a3a"/>
<rect x="681.8" y="531.3" width="1.3" height="58.5" fill="#3a3a3a"/>
<rect x="750.0" y="531.3" width="1.3" height="58.5" fill="#3a3a3a"/>
<rect x="818.1" y="531.3" width="1.3" height="58.5" fill="#3a3a3a"/>
<rect x="886.1" y="531.3" width="1.3" height="58.5" fill="#3a3a3a"/>
<rect x="954.4" y="531.3" width="1.3" height="58.5" fill="#3a3a3a"/>
<rect x="204.8" y="554.55" width="750.2" height="3.3" fill="#0c0a0c"/>
<g filter="url(#bl4)">
<circle cx="239.3" cy="558.2" r="20.5" fill="#c0b08d" opacity="1"/>
<circle cx="239.3" cy="557.2" r="20.4" fill="#f0dcb0" opacity="1"/>
<circle cx="239.3" cy="557.2" r="20.4" fill="url(#shade)"/>
</g>
<rect x="219.8" y="553.7" width="39" height="5" fill="#5a4030" opacity="0.2" filter="url(#bl2)"/>
<text x="239.3" y="587.9" class="lbd" style="font-size:10px" textLength="22.8" lengthAdjust="spacingAndGlyphs">B1B</text>
<g filter="url(#bl4)">
<circle cx="307.9" cy="558.2" r="20.5" fill="#beab85" opacity="1"/>
<circle cx="307.9" cy="557.2" r="20.4" fill="#eed6a6" opacity="1"/>
<circle cx="307.9" cy="557.2" r="20.4" fill="url(#shade)"/>
</g>
<rect x="288.4" y="553.7" width="39" height="5" fill="#5a4030" opacity="0.2" filter="url(#bl2)"/>
<text x="307.9" y="587.9" class="lbd" style="font-size:10px" textLength="22.8" lengthAdjust="spacingAndGlyphs">B2B</text>
<g filter="url(#bl4)">
<circle cx="375.7" cy="558.2" r="20.5" fill="#bda26b" opacity="1"/>
<circle cx="375.7" cy="557.2" r="20.4" fill="#ecca86" opacity="1"/>
<circle cx="375.7" cy="557.2" r="20.4" fill="url(#shade)"/>
</g>
<rect x="356.2" y="553.7" width="39" height="5" fill="#5a4030" opacity="0.2" filter="url(#bl2)"/>
<text x="375.7" y="587.9" class="lbd" style="font-size:10px" textLength="22.8" lengthAdjust="spacingAndGlyphs">B3B</text>
<g filter="url(#bl4)">
<circle cx="443.7" cy="558.2" r="20.5" fill="#bda05e" opacity="1"/>
<circle cx="443.7" cy="557.2" r="20.4" fill="#ecc876" opacity="1"/>
<circle cx="443.7" cy="557.2" r="20.4" fill="url(#shade)"/>
</g>
<rect x="424.2" y="553.7" width="39" height="5" fill="#5a4030" opacity="0.2" filter="url(#bl2)"/>
<text x="443.7" y="587.9" class="lbd" style="font-size:10px" textLength="22.8" lengthAdjust="spacingAndGlyphs">B4B</text>
<g filter="url(#bl4)">
<circle cx="512.5" cy="558.2" r="20.5" fill="#bdae8d" opacity="1"/>
<circle cx="512.5" cy="557.2" r="20.4" fill="#ecdab0" opacity="1"/>
<circle cx="512.5" cy="557.2" r="20.4" fill="url(#shade)"/>
</g>
<rect x="493.0" y="553.7" width="39" height="5" fill="#5a4030" opacity="0.2" filter="url(#bl2)"/>
<text x="512.5" y="587.9" class="lbd" style="font-size:10px" textLength="22.8" lengthAdjust="spacingAndGlyphs">C1B</text>
<g filter="url(#bl4)">
<circle cx="579.9" cy="558.2" r="20.5" fill="#bba67d" opacity="1"/>
<circle cx="579.9" cy="557.2" r="20.4" fill="#eacf9c" opacity="1"/>
<circle cx="579.9" cy="557.2" r="20.4" fill="url(#shade)"/>
</g>
<rect x="560.4" y="553.7" width="39" height="5" fill="#5a4030" opacity="0.2" filter="url(#bl2)"/>
<text x="579.9" y="587.9" class="lbd" style="font-size:10px" textLength="22.8" lengthAdjust="spacingAndGlyphs">C2B</text>
<g filter="url(#bl4)">
<circle cx="648.4" cy="558.2" r="20.5" fill="#b59668" opacity="1"/>
<circle cx="648.4" cy="557.2" r="20.4" fill="#e2bc82" opacity="1"/>
<circle cx="648.4" cy="557.2" r="20.4" fill="url(#shade)"/>
</g>
<rect x="628.9" y="553.7" width="39" height="5" fill="#5a4030" opacity="0.2" filter="url(#bl2)"/>
<text x="648.4" y="587.9" class="lbd" style="font-size:10px" textLength="22.8" lengthAdjust="spacingAndGlyphs">C3B</text>
<g filter="url(#bl4)">
<circle cx="716.1" cy="558.2" r="20.5" fill="#b2884b" opacity="1"/>
<circle cx="716.1" cy="557.2" r="20.4" fill="#deaa5e" opacity="1"/>
<circle cx="716.1" cy="557.2" r="20.4" fill="url(#shade)"/>
</g>
<rect x="696.6" y="553.7" width="39" height="5" fill="#5a4030" opacity="0.2" filter="url(#bl2)"/>
<text x="716.1" y="587.9" class="lbd" style="font-size:10px" textLength="22.8" lengthAdjust="spacingAndGlyphs">C4B</text>
<g filter="url(#bl4)">
<circle cx="784.4" cy="558.2" r="20.5" fill="#bbaa92" opacity="1"/>
<circle cx="784.4" cy="557.2" r="20.4" fill="#ead4b6" opacity="1"/>
<circle cx="784.4" cy="557.2" r="20.4" fill="url(#shade)"/>
</g>
<rect x="764.9" y="553.7" width="39" height="5" fill="#5a4030" opacity="0.2" filter="url(#bl2)"/>
<text x="784.4" y="587.9" class="lbd" style="font-size:10px" textLength="22.8" lengthAdjust="spacingAndGlyphs">D2B</text>
<g filter="url(#bl4)">
<circle cx="852.3" cy="558.2" r="20.5" fill="#bba683" opacity="1"/>
<circle cx="852.3" cy="557.2" r="20.4" fill="#eacfa4" opacity="1"/>
<circle cx="852.3" cy="557.2" r="20.4" fill="url(#shade)"/>
</g>
<rect x="832.8" y="553.7" width="39" height="5" fill="#5a4030" opacity="0.2" filter="url(#bl2)"/>
<text x="852.3" y="587.9" class="lbd" style="font-size:10px" textLength="22.8" lengthAdjust="spacingAndGlyphs">D3B</text>
<g filter="url(#bl4)">
<circle cx="919.4" cy="558.2" r="20.5" fill="#b3a06d" opacity="1"/>
<circle cx="919.4" cy="557.2" r="20.4" fill="#e0c888" opacity="1"/>
<circle cx="919.4" cy="557.2" r="20.4" fill="url(#shade)"/>
</g>
<rect x="899.9" y="553.7" width="39" height="5" fill="#5a4030" opacity="0.2" filter="url(#bl2)"/>
<text x="919.4" y="587.9" class="lbd" style="font-size:10px" textLength="22.8" lengthAdjust="spacingAndGlyphs">D4B</text>
<rect x="204.2" y="589.8" width="1.3" height="58.2" fill="#3a3a3a"/>
<rect x="272.6" y="589.8" width="1.3" height="58.2" fill="#3a3a3a"/>
<rect x="340.8" y="589.8" width="1.3" height="58.2" fill="#3a3a3a"/>
<rect x="409.0" y="589.8" width="1.3" height="58.2" fill="#3a3a3a"/>
<rect x="477.2" y="589.8" width="1.3" height="58.2" fill="#3a3a3a"/>
<rect x="545.4" y="589.8" width="1.3" height="58.2" fill="#3a3a3a"/>
<rect x="681.8" y="589.8" width="1.3" height="58.2" fill="#3a3a3a"/>
<rect x="750.0" y="589.8" width="1.3" height="58.2" fill="#3a3a3a"/>
<rect x="818.1" y="589.8" width="1.3" height="58.2" fill="#3a3a3a"/>
<rect x="886.1" y="589.8" width="1.3" height="58.2" fill="#3a3a3a"/>
<rect x="204.8" y="613.75" width="750.2" height="3.3" fill="#0c0a0c"/>
<g filter="url(#bl4)">
<circle cx="239.3" cy="615.4" r="20.4" fill="#c6bdab" opacity="1"/>
<circle cx="239.3" cy="614.4" r="20.3" fill="#f8ecd6" opacity="1"/>
<circle cx="239.3" cy="614.4" r="20.3" fill="url(#shade)"/>
</g>
<rect x="219.8" y="613.3" width="39" height="4.2" fill="#bcaca6" opacity="0.85" filter="url(#bl)"/>
<text x="239.6" y="645.4" class="lin" style="font-size:11px" textLength="13.8" lengthAdjust="spacingAndGlyphs">57</text>
<g filter="url(#bl4)">
<circle cx="307.0" cy="615.4" r="20.4" fill="#c6baa3" opacity="1"/>
<circle cx="307.0" cy="614.4" r="20.3" fill="#f8e8cc" opacity="1"/>
<circle cx="307.0" cy="614.4" r="20.3" fill="url(#shade)"/>
</g>
<rect x="287.5" y="613.3" width="39" height="4.2" fill="#bcaca6" opacity="0.85" filter="url(#bl)"/>
<text x="307.3" y="645.4" class="lin" style="font-size:11px" textLength="13.8" lengthAdjust="spacingAndGlyphs">58</text>
<g filter="url(#bl4)">
<circle cx="375.0" cy="615.4" r="20.4" fill="#c6b69e" opacity="1"/>
<circle cx="375.0" cy="614.4" r="20.3" fill="#f8e4c6" opacity="1"/>
<circle cx="375.0" cy="614.4" r="20.3" fill="url(#shade)"/>
</g>
<rect x="355.5" y="613.3" width="39" height="4.2" fill="#bcaca6" opacity="0.85" filter="url(#bl)"/>
<text x="375.3" y="645.4" class="lin" style="font-size:11px" textLength="13.8" lengthAdjust="spacingAndGlyphs">59</text>
<g filter="url(#bl4)">
<circle cx="443.5" cy="615.4" r="20.4" fill="#c3b096" opacity="1"/>
<circle cx="443.5" cy="614.4" r="20.3" fill="#f4dcbc" opacity="1"/>
<circle cx="443.5" cy="614.4" r="20.3" fill="url(#shade)"/>
</g>
<rect x="424.0" y="613.3" width="39" height="4.2" fill="#bcaca6" opacity="0.85" filter="url(#bl)"/>
<text x="443.8" y="645.4" class="lin" style="font-size:11px" textLength="13.8" lengthAdjust="spacingAndGlyphs">60</text>
<g filter="url(#bl4)">
<circle cx="511.5" cy="615.4" r="20.4" fill="#c6baa6" opacity="1"/>
<circle cx="511.5" cy="614.4" r="20.3" fill="#f8e8d0" opacity="1"/>
<circle cx="511.5" cy="614.4" r="20.3" fill="url(#shade)"/>
</g>
<rect x="492.0" y="613.3" width="39" height="4.2" fill="#bcaca6" opacity="0.85" filter="url(#bl)"/>
<text x="511.8" y="645.4" class="lin" style="font-size:11px" textLength="13.8" lengthAdjust="spacingAndGlyphs">58</text>
<g filter="url(#bl4)">
<circle cx="614.2" cy="615.4" r="20.4" fill="#c6b8a0" opacity="1"/>
<circle cx="614.2" cy="614.4" r="20.3" fill="#f8e6c8" opacity="1"/>
<circle cx="614.2" cy="614.4" r="20.3" fill="url(#shade)"/>
</g>
<rect x="594.7" y="613.3" width="39" height="4.2" fill="#bcaca6" opacity="0.85" filter="url(#bl)"/>
<text x="614.5" y="645.4" class="lin" style="font-size:11px" textLength="13.8" lengthAdjust="spacingAndGlyphs">59</text>
<g filter="url(#bl4)">
<circle cx="715.8" cy="615.4" r="20.4" fill="#c3b096" opacity="1"/>
<circle cx="715.8" cy="614.4" r="20.3" fill="#f4dcbc" opacity="1"/>
<circle cx="715.8" cy="614.4" r="20.3" fill="url(#shade)"/>
</g>
<rect x="696.3" y="613.3" width="39" height="4.2" fill="#bcaca6" opacity="0.85" filter="url(#bl)"/>
<text x="716.1" y="645.4" class="lin" style="font-size:11px" textLength="13.8" lengthAdjust="spacingAndGlyphs">60</text>
<g filter="url(#bl4)">
<circle cx="784.0" cy="615.4" r="20.4" fill="#c5b6a3" opacity="1"/>
<circle cx="784.0" cy="614.4" r="20.3" fill="#f6e4cc" opacity="1"/>
<circle cx="784.0" cy="614.4" r="20.3" fill="url(#shade)"/>
</g>
<rect x="764.5" y="613.3" width="39" height="4.2" fill="#bcaca6" opacity="0.85" filter="url(#bl)"/>
<text x="784.3" y="645.4" class="lin" style="font-size:11px" textLength="13.8" lengthAdjust="spacingAndGlyphs">59</text>
<g filter="url(#bl4)">
<circle cx="852.0" cy="615.4" r="20.4" fill="#c3b096" opacity="1"/>
<circle cx="852.0" cy="614.4" r="20.3" fill="#f4dcbc" opacity="1"/>
<circle cx="852.0" cy="614.4" r="20.3" fill="url(#shade)"/>
</g>
<rect x="832.5" y="613.3" width="39" height="4.2" fill="#bcaca6" opacity="0.85" filter="url(#bl)"/>
<text x="852.3" y="645.4" class="lin" style="font-size:11px" textLength="13.8" lengthAdjust="spacingAndGlyphs">60</text>
<g filter="url(#bl4)">
<circle cx="919.0" cy="615.4" r="20.4" fill="#c5b6a3" opacity="1"/>
<circle cx="919.0" cy="614.4" r="20.3" fill="#f6e4cc" opacity="1"/>
<circle cx="919.0" cy="614.4" r="20.3" fill="url(#shade)"/>
</g>
<rect x="899.5" y="613.3" width="39" height="4.2" fill="#bcaca6" opacity="0.85" filter="url(#bl)"/>
<text x="919.3" y="645.4" class="lin" style="font-size:11px" textLength="13.8" lengthAdjust="spacingAndGlyphs">59</text>
<text x="134" y="58.1" class="ruo" textLength="78" lengthAdjust="spacingAndGlyphs">UNIVERSAL</text>
<text x="134" y="73.9" class="ruo" textLength="58.7" lengthAdjust="spacingAndGlyphs">OPAQUE</text>
<text x="134.2" y="126.3" class="rcv" textLength="68.7" lengthAdjust="spacingAndGlyphs">CERVICAL</text>
<text x="134.7" y="176.8" class="rod" textLength="57.8" lengthAdjust="spacingAndGlyphs">OPAQUE</text>
<text x="135" y="191.4" class="rod" textLength="50.1" lengthAdjust="spacingAndGlyphs">DENTIN</text>
<text x="134.8" y="242.4" class="rbd" textLength="38.2" lengthAdjust="spacingAndGlyphs">BODY</text>
<text x="134.8" y="301.2" class="rin" textLength="53.9" lengthAdjust="spacingAndGlyphs">INCISAL</text>
<text x="134" y="382.2" class="ruo" textLength="78" lengthAdjust="spacingAndGlyphs">UNIVERSAL</text>
<text x="134" y="397.9" class="ruo" textLength="58.7" lengthAdjust="spacingAndGlyphs">OPAQUE</text>
<text x="134.2" y="449.4" class="rcv" textLength="68.7" lengthAdjust="spacingAndGlyphs">CERVICAL</text>
<text x="134.7" y="500.2" class="rod" textLength="57.8" lengthAdjust="spacingAndGlyphs">OPAQUE</text>
<text x="135" y="514.7" class="rod" textLength="50.1" lengthAdjust="spacingAndGlyphs">DENTIN</text>
<text x="134.8" y="565.7" class="rbd" textLength="38.2" lengthAdjust="spacingAndGlyphs">BODY</text>
<text x="134.8" y="624.2" class="rin" textLength="53.9" lengthAdjust="spacingAndGlyphs">INCISAL</text>
</svg>
</body></html>
